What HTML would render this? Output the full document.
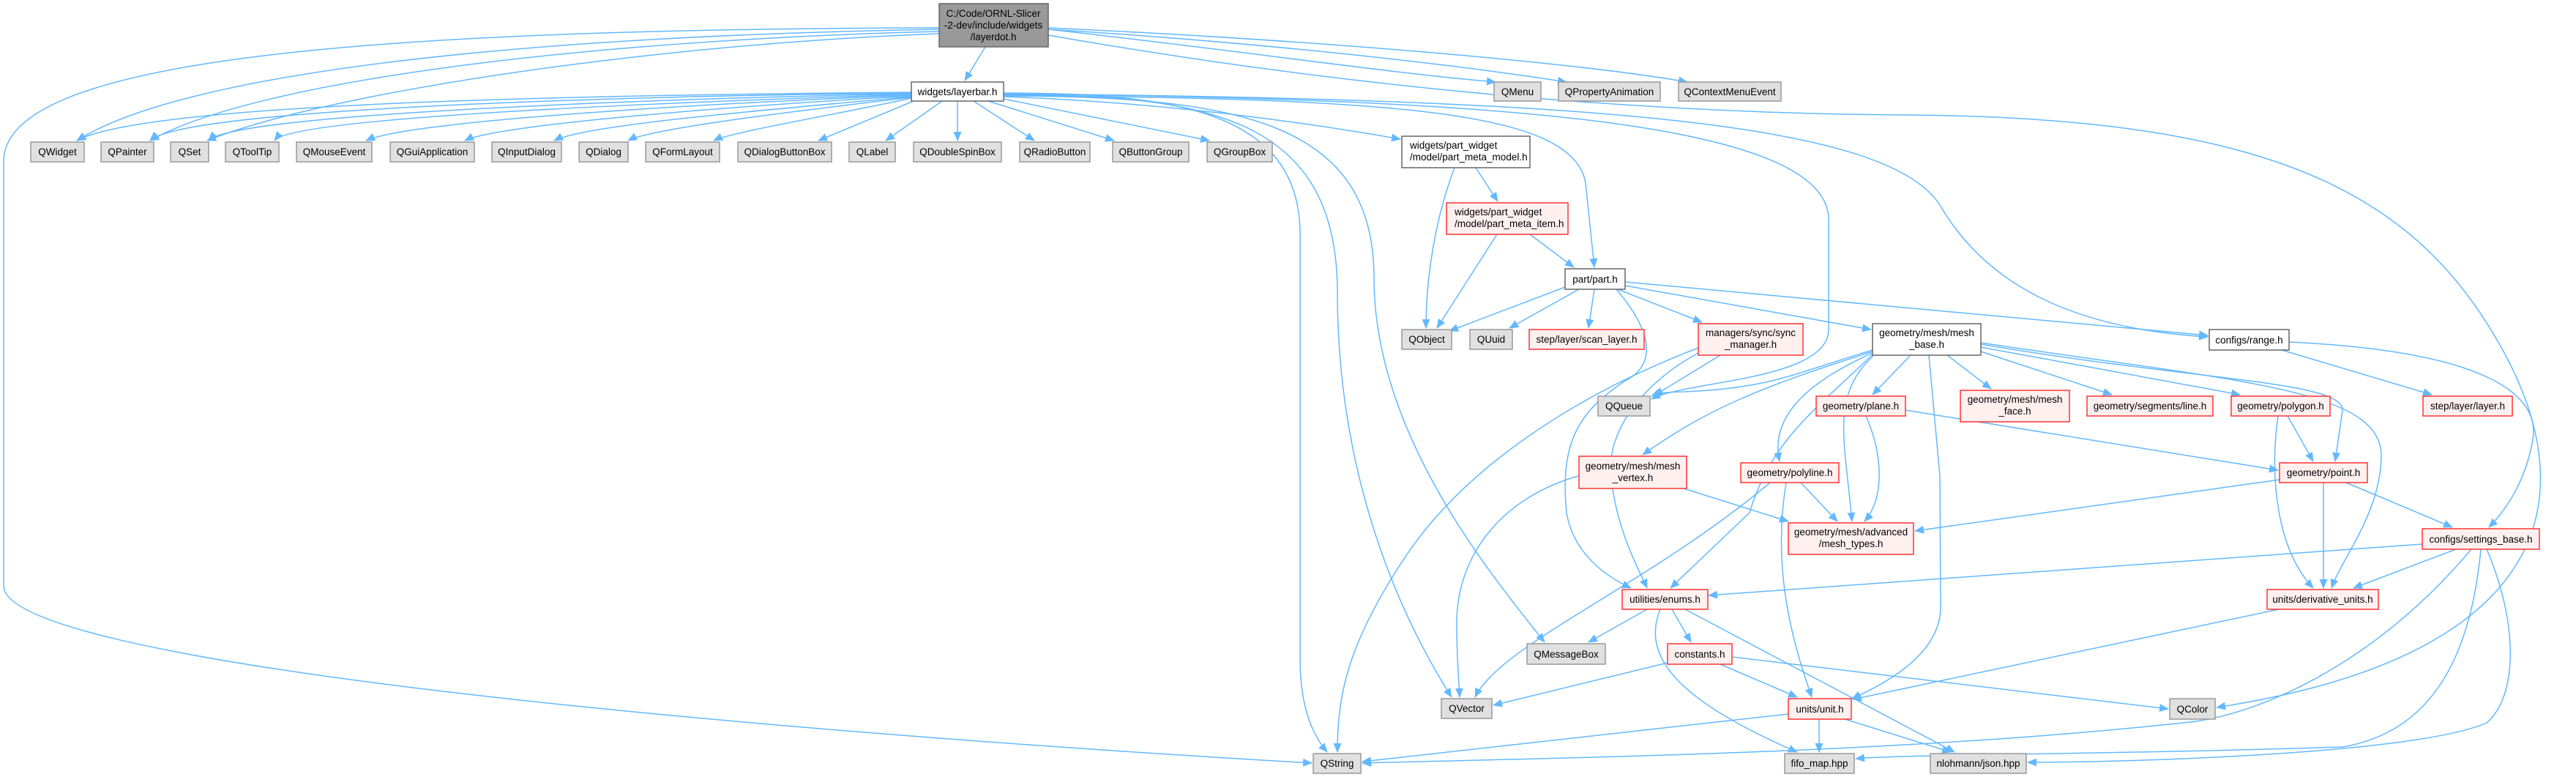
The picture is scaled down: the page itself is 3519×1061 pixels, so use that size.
<!DOCTYPE html>
<html><head><meta charset="utf-8"><style>
html,body{margin:0;padding:0;background:#fff;}
svg{display:block;}
text{font-family:"Liberation Sans",Arial,sans-serif;font-size:13.5px;fill:#000;}
.e{fill:none;stroke:#63b8ff;stroke-width:1.5;marker-end:url(#a);}
.g{fill:#e0e0e0;stroke:#999;stroke-width:1.5;}
.r{fill:#fff0f0;stroke:#f33;stroke-width:1.5;}
.w{fill:#fff;stroke:#666;stroke-width:1.5;}
.t{fill:#999;stroke:#666;stroke-width:1.5;}
</style></head><body>
<svg width="3519" height="1061" viewBox="0 0 3519 1061" xmlns="http://www.w3.org/2000/svg">
<defs><marker id="a" markerUnits="userSpaceOnUse" markerWidth="13" markerHeight="11" refX="12" refY="5.5" orient="auto"><path d="M0,0 L13,5.5 L0,11 z" fill="#63b8ff"/></marker></defs>
<g>
<path class="e" d="M1346,64 L1318,110"/>
<path class="e" d="M1283,40 C700,50 250,100 105,192"/>
<path class="e" d="M1283,43 C800,55 350,110 205,192"/>
<path class="e" d="M1283,46 C900,60 450,125 283,192"/>
<path class="e" d="M1283,38 C500,40 5,80 5,220 L5,800 C5,900 900,990 1792,1042"/>
<path class="e" d="M1432,40 C1700,70 1900,100 2043,112"/>
<path class="e" d="M1432,40 C1750,60 2000,90 2140,112"/>
<path class="e" d="M1432,38 C1800,55 2150,85 2305,112"/>
<path class="e" d="M1432,48 C1900,130 2300,155 2600,157 C3100,160 3300,260 3420,480 C3540,700 3460,900 3028,966"/>
<path class="e" d="M1245,126 C800,130 200,140 105,192"/>
<path class="e" d="M1245,127 C800,132 250,150 205,192"/>
<path class="e" d="M1245,128 C900,135 320,155 285,192"/>
<path class="e" d="M1245,129 C900,140 400,160 375,192"/>
<path class="e" d="M1245,130 C950,142 560,165 500,192"/>
<path class="e" d="M1245,131 C1000,145 680,170 635,192"/>
<path class="e" d="M1245,132 C1050,150 800,170 757,192"/>
<path class="e" d="M1245,133 C1100,150 890,175 858,192"/>
<path class="e" d="M1245,134 C1150,155 1000,180 975,192"/>
<path class="e" d="M1248,138 L1118,192"/>
<path class="e" d="M1287,138 L1210,192"/>
<path class="e" d="M1308,138 L1308,192"/>
<path class="e" d="M1330,138 L1413,192"/>
<path class="e" d="M1350,138 L1522,192"/>
<path class="e" d="M1371,135 L1652,192"/>
<path class="e" d="M1371,132 C1600,140 1800,170 1913,190"/>
<path class="e" d="M1371,127 C1600,127 1776,150 1776,320 L1776,900 C1776,960 1790,1000 1813,1027"/>
<path class="e" d="M1371,129 C1650,129 1827,160 1827,400 C1827,700 1950,900 1983,952"/>
<path class="e" d="M1371,131 C1700,131 1877,170 1877,380 C1877,600 2050,800 2110,877"/>
<path class="e" d="M1371,130 C1900,135 2150,150 2166,250 L2178,365"/>
<path class="e" d="M1371,128 C2000,135 2498,160 2498,300 L2498,450 C2498,520 2300,520 2256,545"/>
<path class="e" d="M1371,128 C2200,135 2580,170 2650,280 C2720,400 2850,450 3016,460"/>
<path class="e" d="M1987,229 C1960,300 1948,380 1948,448"/>
<path class="e" d="M2016,229 L2046,275"/>
<path class="e" d="M2045,320 L1963,448"/>
<path class="e" d="M2090,320 L2150,365"/>
<path class="e" d="M2138,392 L1980,452"/>
<path class="e" d="M2157,395 L2062,448"/>
<path class="e" d="M2178,395 L2170,448"/>
<path class="e" d="M2210,395 L2325,440"/>
<path class="e" d="M2220,390 L2556,450"/>
<path class="e" d="M2220,385 L3016,458"/>
<path class="e" d="M2208,395 C2280,480 2240,510 2220,520 C2160,560 2130,600 2140,700 C2150,760 2200,790 2228,803"/>
<path class="e" d="M2350,485 L2260,540"/>
<path class="e" d="M2320,475 C2150,540 2000,640 1920,760 C1840,880 1827,950 1827,1027"/>
<path class="e" d="M2320,482 C2250,520 2200,580 2200,640 C2205,720 2240,780 2250,803"/>
<path class="e" d="M2558,478 C2450,510 2420,530 2300,535 C2280,535 2265,537 2256,541"/>
<path class="e" d="M2558,480 C2400,530 2330,560 2244,621"/>
<path class="e" d="M2558,482 C2450,530 2420,580 2431,630"/>
<path class="e" d="M2560,485 C2500,540 2520,600 2530,712"/>
<path class="e" d="M2558,484 C2480,560 2420,600 2390,700 L2282,803"/>
<path class="e" d="M2610,485 L2558,539"/>
<path class="e" d="M2660,485 L2720,531"/>
<path class="e" d="M2706,480 L2885,539"/>
<path class="e" d="M2706,474 L3060,539"/>
<path class="e" d="M2706,470 C3000,520 3200,520 3200,560 L3190,630"/>
<path class="e" d="M2706,468 C3050,520 3250,530 3253,620 C3253,700 3200,760 3185,803"/>
<path class="e" d="M2635,485 L2650,650 L2651,830 C2650,900 2560,940 2530,954"/>
<path class="e" d="M2549,568 C2572,620 2575,680 2547,712"/>
<path class="e" d="M2603,560 L3112,642"/>
<path class="e" d="M3125,568 L3160,630"/>
<path class="e" d="M3112,568 C3100,650 3110,750 3160,803"/>
<path class="e" d="M3117,478 L3322,539"/>
<path class="e" d="M3127,467 C3400,480 3470,540 3460,600 C3450,660 3420,700 3400,720"/>
<path class="e" d="M2156,650 C2050,680 1990,760 1990,850 C1990,900 1993,930 1994,952"/>
<path class="e" d="M2300,667 L2443,712"/>
<path class="e" d="M2418,659 C2250,800 2050,880 2015,952"/>
<path class="e" d="M2460,659 L2510,712"/>
<path class="e" d="M2440,659 C2420,780 2450,880 2475,952"/>
<path class="e" d="M3114,655 L2616,725"/>
<path class="e" d="M3174,659 L3174,803"/>
<path class="e" d="M3205,659 L3350,720"/>
<path class="e" d="M3355,750 L3215,803"/>
<path class="e" d="M3309,743 L2334,813"/>
<path class="e" d="M3376,750 C3250,900 3100,970 3000,985 C2600,1030 2100,1035 1861,1042"/>
<path class="e" d="M3389,750 C3375,900 3320,1000 3200,1020 C2900,1030 2600,1030 2535,1036"/>
<path class="e" d="M3397,750 C3440,850 3440,950 3397,987 C3300,1030 2900,1041 2770,1041"/>
<path class="e" d="M2250,832 L2170,877"/>
<path class="e" d="M2284,832 L2310,877"/>
<path class="e" d="M2268,832 C2240,900 2300,960 2455,1027"/>
<path class="e" d="M2302,832 L2670,1027"/>
<path class="e" d="M2278,905 L2040,963"/>
<path class="e" d="M2350,907 L2455,952"/>
<path class="e" d="M2366,897 L2962,968"/>
<path class="e" d="M3113,832 L2531,955"/>
<path class="e" d="M2443,975 L1861,1040"/>
<path class="e" d="M2485,982 L2485,1027"/>
<path class="e" d="M2520,982 L2665,1027"/>
</g>
<g>
<rect class="t" x="1283" y="5" width="149" height="59"/>
<text x="1357" y="23" text-anchor="middle">C:/Code/ORNL-Slicer</text>
<text x="1357" y="39" text-anchor="middle">-2-dev/include/widgets</text>
<text x="1357" y="55" text-anchor="middle">/layerdot.h</text>
<rect class="w" x="1245" y="112" width="126" height="26"/><text x="1308" y="130" text-anchor="middle">widgets/layerbar.h</text>
<rect class="g" x="42" y="194" width="73" height="27"/><text x="78.5" y="212" text-anchor="middle">QWidget</text>
<rect class="g" x="138" y="194" width="72" height="27"/><text x="174" y="212" text-anchor="middle">QPainter</text>
<rect class="g" x="233" y="194" width="52" height="27"/><text x="259" y="212" text-anchor="middle">QSet</text>
<rect class="g" x="308" y="194" width="73" height="27"/><text x="344.5" y="212" text-anchor="middle">QToolTip</text>
<rect class="g" x="405" y="194" width="103" height="27"/><text x="456.5" y="212" text-anchor="middle">QMouseEvent</text>
<rect class="g" x="533" y="194" width="115" height="27"/><text x="590.5" y="212" text-anchor="middle">QGuiApplication</text>
<rect class="g" x="672" y="194" width="95" height="27"/><text x="719.5" y="212" text-anchor="middle">QInputDialog</text>
<rect class="g" x="791" y="194" width="67" height="27"/><text x="824.5" y="212" text-anchor="middle">QDialog</text>
<rect class="g" x="882" y="194" width="101" height="27"/><text x="932.5" y="212" text-anchor="middle">QFormLayout</text>
<rect class="g" x="1008" y="194" width="128" height="27"/><text x="1072" y="212" text-anchor="middle">QDialogButtonBox</text>
<rect class="g" x="1160" y="194" width="63" height="27"/><text x="1191.5" y="212" text-anchor="middle">QLabel</text>
<rect class="g" x="1248" y="194" width="120" height="27"/><text x="1308" y="212" text-anchor="middle">QDoubleSpinBox</text>
<rect class="g" x="1393" y="194" width="96" height="27"/><text x="1441" y="212" text-anchor="middle">QRadioButton</text>
<rect class="g" x="1520" y="194" width="104" height="27"/><text x="1572" y="212" text-anchor="middle">QButtonGroup</text>
<rect class="g" x="1649" y="194" width="89" height="27"/><text x="1693.5" y="212" text-anchor="middle">QGroupBox</text>
<rect class="g" x="2041" y="112" width="64" height="26"/><text x="2073" y="130" text-anchor="middle">QMenu</text>
<rect class="g" x="2129" y="112" width="139" height="26"/><text x="2198.5" y="130" text-anchor="middle">QPropertyAnimation</text>
<rect class="g" x="2293" y="112" width="140" height="26"/><text x="2363" y="130" text-anchor="middle">QContextMenuEvent</text>
<rect class="w" x="1915" y="186" width="175" height="43"/>
<text x="1926" y="203">widgets/part_widget</text><text x="1926" y="219">/model/part_meta_model.h</text>
<rect class="r" x="1976" y="277" width="166" height="43"/>
<text x="1987" y="294">widgets/part_widget</text><text x="1987" y="310">/model/part_meta_item.h</text>
<rect class="w" x="2138" y="367" width="82" height="28"/><text x="2179" y="386" text-anchor="middle">part/part.h</text>
<rect class="g" x="1915" y="450" width="68" height="27"/><text x="1949" y="468" text-anchor="middle">QObject</text>
<rect class="g" x="2008" y="450" width="58" height="27"/><text x="2037" y="468" text-anchor="middle">QUuid</text>
<rect class="r" x="2089" y="450" width="157" height="27"/><text x="2167.5" y="468" text-anchor="middle">step/layer/scan_layer.h</text>
<rect class="r" x="2320" y="442" width="143" height="43"/>
<text x="2391.5" y="459" text-anchor="middle">managers/sync/sync</text><text x="2391.5" y="475" text-anchor="middle">_manager.h</text>
<rect class="w" x="2558" y="442" width="148" height="43"/>
<text x="2632" y="459" text-anchor="middle">geometry/mesh/mesh</text><text x="2632" y="475" text-anchor="middle">_base.h</text>
<rect class="w" x="3018" y="450" width="109" height="28"/><text x="3072.5" y="469" text-anchor="middle">configs/range.h</text>
<rect class="g" x="2183" y="541" width="71" height="27"/><text x="2218.5" y="559" text-anchor="middle">QQueue</text>
<rect class="r" x="2481" y="541" width="122" height="27"/><text x="2542" y="559" text-anchor="middle">geometry/plane.h</text>
<rect class="r" x="2678" y="533" width="149" height="43"/>
<text x="2752.5" y="550" text-anchor="middle">geometry/mesh/mesh</text><text x="2752.5" y="566" text-anchor="middle">_face.h</text>
<rect class="r" x="2851" y="541" width="172" height="27"/><text x="2937" y="559" text-anchor="middle">geometry/segments/line.h</text>
<rect class="r" x="3048" y="541" width="135" height="27"/><text x="3115.5" y="559" text-anchor="middle">geometry/polygon.h</text>
<rect class="r" x="3310" y="541" width="122" height="27"/><text x="3371" y="559" text-anchor="middle">step/layer/layer.h</text>
<rect class="r" x="2157" y="623" width="147" height="44"/>
<text x="2230.5" y="641" text-anchor="middle">geometry/mesh/mesh</text><text x="2230.5" y="657" text-anchor="middle">_vertex.h</text>
<rect class="r" x="2378" y="632" width="134" height="27"/><text x="2445" y="650" text-anchor="middle">geometry/polyline.h</text>
<rect class="r" x="3114" y="632" width="120" height="27"/><text x="3174" y="650" text-anchor="middle">geometry/point.h</text>
<rect class="r" x="2443" y="714" width="171" height="43"/>
<text x="2528.5" y="731" text-anchor="middle">geometry/mesh/advanced</text><text x="2528.5" y="747" text-anchor="middle">/mesh_types.h</text>
<rect class="r" x="3309" y="722" width="160" height="28"/><text x="3389" y="741" text-anchor="middle">configs/settings_base.h</text>
<rect class="r" x="2216" y="805" width="117" height="27"/><text x="2274.5" y="823" text-anchor="middle">utilities/enums.h</text>
<rect class="r" x="3097" y="805" width="152" height="27"/><text x="3173" y="823" text-anchor="middle">units/derivative_units.h</text>
<rect class="g" x="2086" y="879" width="107" height="28"/><text x="2139.5" y="898" text-anchor="middle">QMessageBox</text>
<rect class="r" x="2278" y="879" width="88" height="28"/><text x="2322" y="898" text-anchor="middle">constants.h</text>
<rect class="g" x="1969" y="954" width="69" height="27"/><text x="2003.5" y="972" text-anchor="middle">QVector</text>
<rect class="r" x="2443" y="954" width="86" height="28"/><text x="2486" y="973" text-anchor="middle">units/unit.h</text>
<rect class="g" x="2964" y="954" width="62" height="28"/><text x="2995" y="973" text-anchor="middle">QColor</text>
<rect class="g" x="1794" y="1029" width="65" height="27"/><text x="1826.5" y="1047" text-anchor="middle">QString</text>
<rect class="g" x="2438" y="1029" width="95" height="27"/><text x="2485.5" y="1047" text-anchor="middle">fifo_map.hpp</text>
<rect class="g" x="2637" y="1029" width="131" height="27"/><text x="2702.5" y="1047" text-anchor="middle">nlohmann/json.hpp</text>
</g>
</svg>
</body></html>
